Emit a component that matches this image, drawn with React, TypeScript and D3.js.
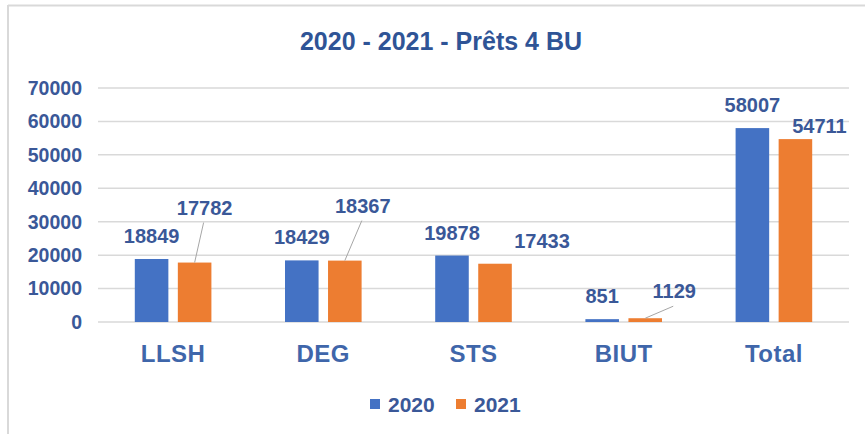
import * as React from "react";
import * as d3 from "d3";

const categories = ["LLSH", "DEG", "STS", "BIUT", "Total"];
const seriesNames = ["2020", "2021"];
const values2020 = [18849, 18429, 19878, 851, 58007];
const values2021 = [17782, 18367, 17433, 1129, 54711];
const yTicks = [0, 10000, 20000, 30000, 40000, 50000, 60000, 70000];

// manual label nudges (Excel labels dragged by hand), in px relative to default spot
const labelNudge2020 = [
  [0, 0],
  [0, 0],
  [0, 0],
  [0, 0],
  [0, 0],
];
const labelNudge2021 = [
  [10, -32],
  [18, -32],
  [47, 0],
  [29, -4],
  [24, 10],
];

const W = 865;
const H = 434;
const margin = { top: 88, right: 16, bottom: 112, left: 98 };

const colors = ["#4472C4", "#ED7D31"];
const textColor = "#3A5898";
const titleColor = "#2F5496";
const font = "'Liberation Sans', Arial, sans-serif";

export default function App() {
  const x0 = d3
    .scaleBand<string>()
    .domain(categories)
    .range([margin.left, W - margin.right])
    .paddingInner(0.49)
    .paddingOuter(0.245);
  const x1 = d3.scaleBand<string>().domain(seriesNames).range([0, x0.bandwidth()]).paddingInner(0.22);
  const y = d3.scaleLinear().domain([0, 70000]).range([H - margin.bottom, margin.top]);

  const series = [values2020, values2021];
  const nudges = [labelNudge2020, labelNudge2021];

  return (
    <svg
      width={W}
      height={H}
      viewBox={`0 0 ${W} ${H}`}
      style={{ position: "absolute", left: 0, top: 0, background: "#fff" }}
    >
      {/* chart frame */}
      <line x1={8} y1={5.5} x2={W} y2={5.5} stroke="#D9D9D9" strokeWidth={2} />
      <line x1={8} y1={5} x2={8} y2={H} stroke="#D9D9D9" strokeWidth={2} />

      <text
        x={441}
        y={50}
        textAnchor="middle"
        fill={titleColor}
        fontSize={25}
        fontWeight="bold"
        fontFamily={font}
      >
        2020 - 2021 - Prêts 4 BU
      </text>

      {yTicks.map((v) => (
        <g key={v}>
          <line x1={margin.left} x2={W - margin.right} y1={y(v)} y2={y(v)} stroke="#D9D9D9" strokeWidth={1.5} />
          <text
            x={82}
            y={y(v)}
            dy="0.35em"
            textAnchor="end"
            fill={textColor}
            fontSize={19.5}
            fontWeight="bold"
            fontFamily={font}
          >
            {v}
          </text>
        </g>
      ))}

      {categories.map((c, i) => (
        <g key={c}>
          {series.map((vals, s) => {
            const bx = (x0(c) ?? 0) + (x1(seriesNames[s]) ?? 0);
            const bw = x1.bandwidth();
            const top = y(vals[i]);
            const cx = bx + bw / 2;
            const [dx, dy] = nudges[s][i];
            const lx = cx + dx;
            const ly = top - 16 + dy;
            const moved = dx !== 0 && dy < -2;
            return (
              <g key={s}>
                <rect x={bx} y={top} width={bw} height={y(0) - top} fill={colors[s]} />
                {moved && (
                  <line x1={cx} y1={top} x2={lx - 1} y2={ly + 8} stroke="#A6A6A6" strokeWidth={1} />
                )}
                <text
                  x={lx}
                  y={ly}
                  textAnchor="middle"
                  fill={textColor}
                  fontSize={20}
                  fontWeight="bold"
                  fontFamily={font}
                >
                  {vals[i]}
                </text>
              </g>
            );
          })}
          <text
            x={(x0(c) ?? 0) + x0.bandwidth() / 2}
            y={362}
            textAnchor="middle"
            fill="#3F66AA"
            fontSize={24}
            fontWeight="bold"
            fontFamily={font}
            letterSpacing={0.5}
          >
            {c}
          </text>
        </g>
      ))}

      {/* legend */}
      {seriesNames.map((n, i) => (
        <g key={n} transform={`translate(${370 + i * 86}, 0)`}>
          <rect x={0} y={399} width={10} height={10} fill={colors[i]} />
          <text x={18} y={412} fill={textColor} fontSize={21} fontWeight="bold" fontFamily={font}>
            {n}
          </text>
        </g>
      ))}
    </svg>
  );
}
